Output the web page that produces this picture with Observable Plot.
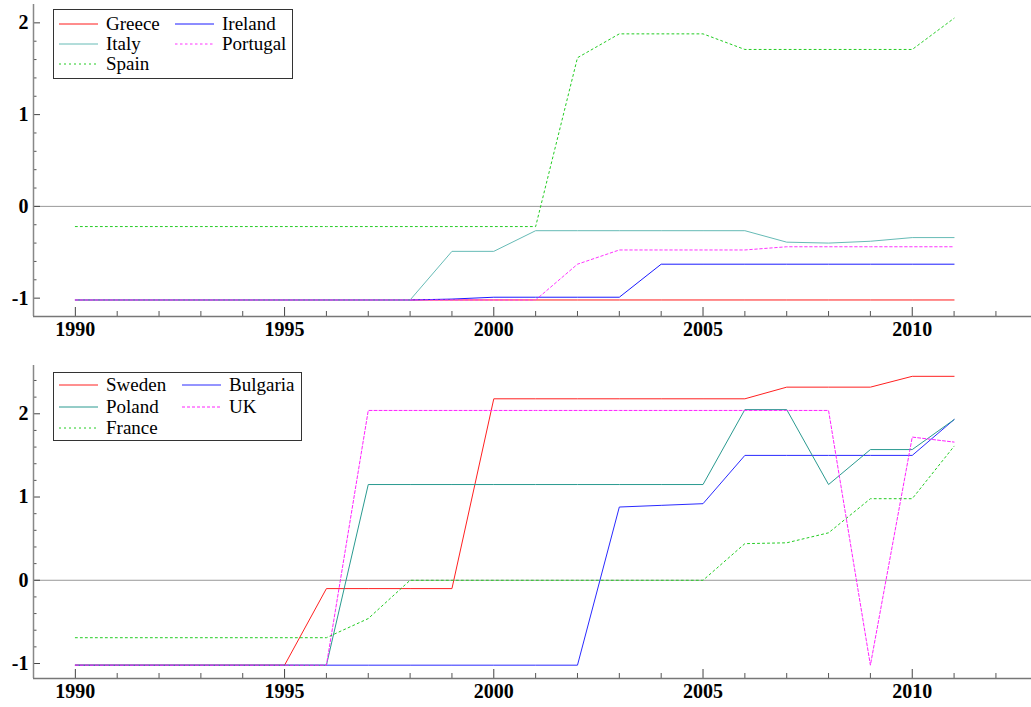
<!DOCTYPE html>
<html><head><meta charset="utf-8">
<script src="https://cdn.jsdelivr.net/npm/d3@7"></script>
<script src="https://cdn.jsdelivr.net/npm/@observablehq/plot@0.6"></script>
<style>
body{margin:0;background:#fff;}
#wrap{position:relative;width:1031px;height:707px;overflow:hidden;background:#fff}
#wrap > svg{display:block}
.legend{position:absolute;}
</style></head><body><div id="wrap"></div>
<script>
// ---------- data ----------
const years = [1990,1991,1992,1993,1994,1995,1996,1997,1998,1999,2000,2001,2002,2003,2004,2005,2006,2007,2008,2009,2010,2011];

const topNames = ["Greece","Ireland","Italy","Portugal","Spain"];
const greece   = [-1.02,-1.02,-1.02,-1.02,-1.02,-1.02,-1.02,-1.02,-1.02,-1.02,-1.02,-1.02,-1.02,-1.02,-1.02,-1.02,-1.02,-1.02,-1.02,-1.02,-1.02,-1.02];
const ireland  = [-1.02,-1.02,-1.02,-1.02,-1.02,-1.02,-1.02,-1.02,-1.02,-1.01,-0.99,-0.99,-0.99,-0.99,-0.63,-0.63,-0.63,-0.63,-0.63,-0.63,-0.63,-0.63];
const italy    = [-1.02,-1.02,-1.02,-1.02,-1.02,-1.02,-1.02,-1.02,-1.02,-0.49,-0.49,-0.265,-0.265,-0.265,-0.265,-0.265,-0.265,-0.39,-0.40,-0.38,-0.34,-0.34];
const portugal = [-1.02,-1.02,-1.02,-1.02,-1.02,-1.02,-1.02,-1.02,-1.02,-1.02,-1.02,-1.02,-0.63,-0.475,-0.475,-0.475,-0.475,-0.44,-0.44,-0.44,-0.44,-0.44];
const spain    = [-0.22,-0.22,-0.22,-0.22,-0.22,-0.22,-0.22,-0.22,-0.22,-0.22,-0.22,-0.22,1.62,1.88,1.88,1.88,1.71,1.71,1.71,1.71,1.71,2.05];

const bottomNames = ["Sweden","Bulgaria","Poland","UK","France"];
const sweden   = [-1.02,-1.02,-1.02,-1.02,-1.02,-1.02,-0.10,-0.10,-0.10,-0.10,2.18,2.18,2.18,2.18,2.18,2.18,2.18,2.32,2.32,2.32,2.45,2.45];
const bulgaria = [-1.02,-1.02,-1.02,-1.02,-1.02,-1.02,-1.02,-1.02,-1.02,-1.02,-1.02,-1.02,-1.02,0.88,0.90,0.92,1.50,1.50,1.50,1.50,1.50,1.93];
const poland   = [-1.02,-1.02,-1.02,-1.02,-1.02,-1.02,-1.02,1.15,1.15,1.15,1.15,1.15,1.15,1.15,1.15,1.15,2.05,2.05,1.15,1.57,1.57,1.93];
const uk       = [-1.02,-1.02,-1.02,-1.02,-1.02,-1.02,-1.02,2.04,2.04,2.04,2.04,2.04,2.04,2.04,2.04,2.04,2.04,2.04,2.04,-1.02,1.72,1.66];
const france   = [-0.69,-0.69,-0.69,-0.69,-0.69,-0.69,-0.69,-0.46,0.0,0.0,0.0,0.0,0.0,0.0,0.0,0.0,0.44,0.45,0.57,0.98,0.98,1.61];

const xMajorTicks = [1990,1995,2000,2005,2010];
const xMinorTicks = [1991,1992,1993,1994,1996,1997,1998,1999,2001,2002,2003,2004,2006,2007,2008,2009,2011,2012];
const yMajorTicks = [-1,0,1,2];
const yMinorTicksTop = [-0.8,-0.6,-0.4,-0.2,0.2,0.4,0.6,0.8,1.2,1.4,1.6,1.8];
const yMinorTicksBottom = [-0.8,-0.6,-0.4,-0.2,0.2,0.4,0.6,0.8,1.2,1.4,1.6,1.8,2.2,2.4];

// ---------- styles ----------
const styles = {
  Greece:   {color:"#ff1a1a", dash:null},
  Ireland:  {color:"#1a1aff", dash:null},
  Italy:    {color:"#66bbb6", dash:null},
  Portugal: {color:"#ff33ff", dash:"2.5,2.5"},
  Spain:    {color:"#22cc22", dash:"2,3"},
  Sweden:   {color:"#ff2020", dash:null},
  Bulgaria: {color:"#2a2aff", dash:null},
  Poland:   {color:"#2a9a90", dash:null},
  UK:       {color:"#ff22ff", dash:"3,2"},
  France:   {color:"#22cc22", dash:"2,3"}
};

const topSeries = [greece, ireland, italy, portugal, spain].map((v,i)=>({name:topNames[i], values:v}));
const bottomSeries = [sweden, bulgaria, poland, uk, france].map((v,i)=>({name:bottomNames[i], values:v}));

const xDomain = [1989, 2012.85];
const fmt = d => d < 0 ? "-" + Math.abs(d) : String(d);

function panel(series, yDomain, yMinor, height, marginTop, marginBottom) {
  const rows = series.flatMap(s => years.map((yr,i)=>({name:s.name, year:yr, value:s.values[i]})));
  return Plot.plot({
    width:1031, height, marginLeft:33, marginRight:0, marginTop, marginBottom,
    x:{domain:xDomain},
    y:{domain:yDomain},
    style:{fontFamily:"'Liberation Serif', serif", color:"#444", background:"#fff"},
    marks:[
      Plot.ruleY([0], {stroke:"#999", strokeWidth:1}),
      ...series.map(s => Plot.line(rows.filter(d=>d.name===s.name), {
        x:"year", y:"value", stroke: styles[s.name].color, strokeWidth:1,
        strokeDasharray: styles[s.name].dash || undefined
      })),
      Plot.axisX({ticks:xMinorTicks, tickSize:-5, tickFormat:()=>"", label:null, stroke:"#555"}),
      Plot.axisX({ticks:xMajorTicks, tickSize:-9, tickPadding:14, label:null, tickFormat:d=>String(d),
        fontSize:20, fontWeight:"bold", fill:"#000", stroke:"#444"}),
      Plot.axisY({ticks:yMinor, tickSize:-3.5, tickFormat:()=>"", label:null, stroke:"#555"}),
      Plot.axisY({ticks:yMajorTicks, tickSize:-7, tickPadding:12, label:null, tickFormat:fmt,
        fontSize:20, fontWeight:"bold", fill:"#000", stroke:"#444"}),
      Plot.ruleX([xDomain[0]], {stroke:"#888", strokeWidth:1.5}),
      Plot.ruleY([yDomain[0]], {stroke:"#777", strokeWidth:1.5})
    ]
  });
}

const wrap = document.getElementById("wrap");
wrap.appendChild(panel(topSeries, [-1.2, 2.2], yMinorTicksTop, 353, 4, 37));
wrap.appendChild(panel(bottomSeries, [-1.18, 2.58], yMinorTicksBottom, 354, 12, 29));

function legend(names, left, top, w, h, col2, rowY) {
  const svg = d3.create("svg").attr("class","legend").attr("width", w).attr("height", h)
    .style("left", left+"px").style("top", top+"px");
  svg.append("rect").attr("x",0.5).attr("y",0.5).attr("width",w-1).attr("height",h-1)
    .attr("fill","#fff").attr("stroke","#333").attr("stroke-width",1);
  names.forEach((n,i) => {
    const c = i % 2, r = Math.floor(i/2);
    const x0 = c === 0 ? 6 : col2;
    const y = rowY[r];
    svg.append("line").attr("x1",x0).attr("x2",x0+39).attr("y1",y).attr("y2",y)
      .attr("stroke", styles[n].color).attr("stroke-width",1)
      .attr("stroke-dasharray", styles[n].dash || null);
    svg.append("text").attr("x", x0+47).attr("y", y).attr("dy","0.34em")
      .attr("font-family","'Liberation Serif', serif").attr("font-size",19).attr("fill","#000").text(n);
  });
  wrap.appendChild(svg.node());
}
legend(topNames, 53, 9, 240, 70, 122, [15, 35, 55]);
legend(bottomNames, 53, 372, 249, 69, 129, [13, 35, 56]);
</script></body></html>
